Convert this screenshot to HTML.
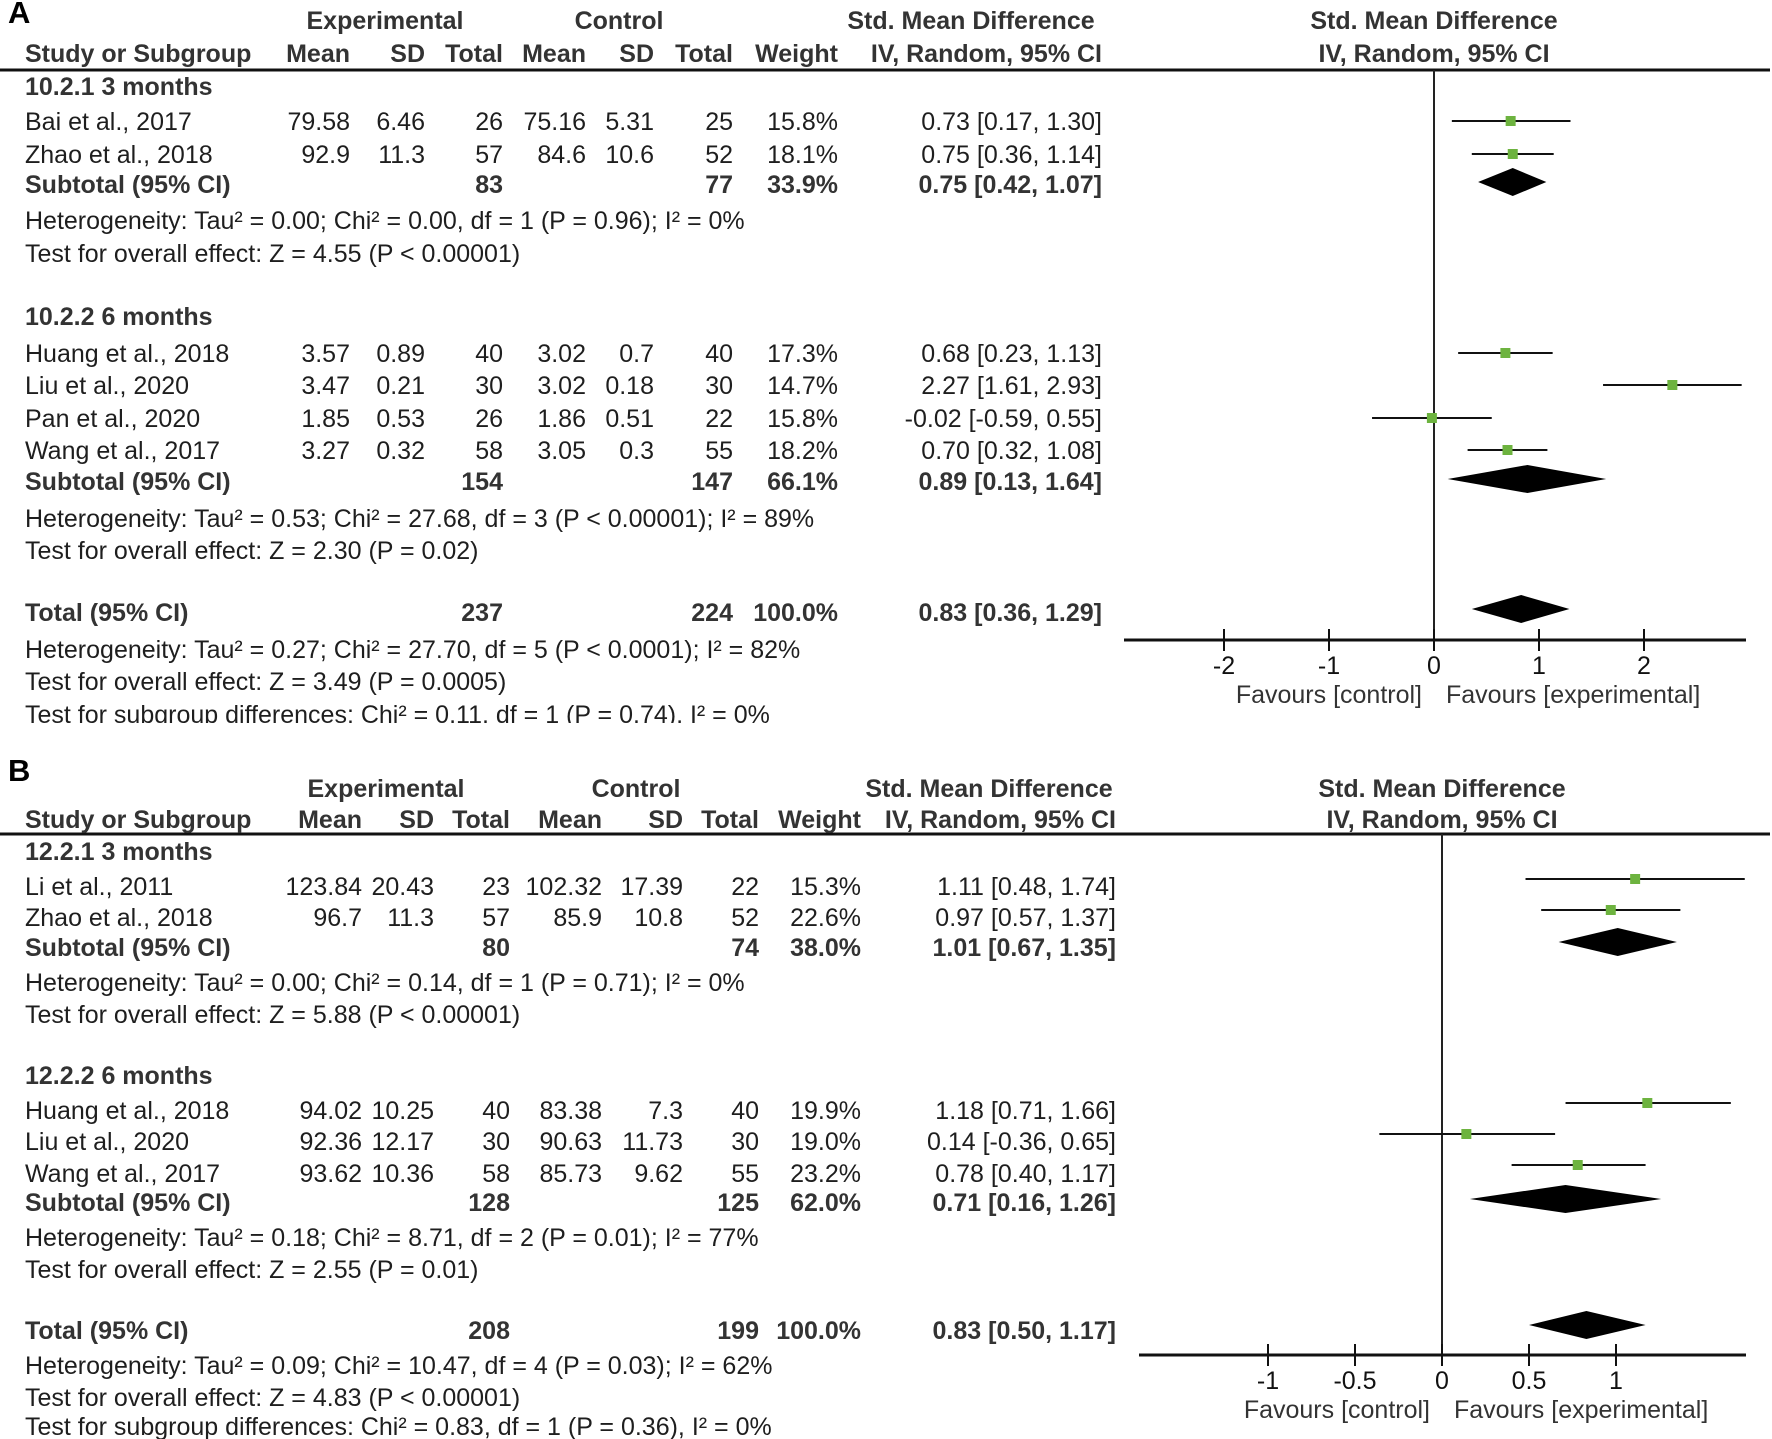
<!DOCTYPE html>
<html><head><meta charset="utf-8"><style>
html,body{margin:0;padding:0;background:#fff;}
svg{display:block;font-family:"Liberation Sans",Arial,sans-serif;}
</style></head><body>
<svg id="fig" width="1772" height="1439" viewBox="0 0 1772 1439"></svg>
<script>
// ===== Panel A data =====
const aStudies = ["Bai et al., 2017","Zhao et al., 2018","Huang et al., 2018","Liu et al., 2020","Pan et al., 2020","Wang et al., 2017"];
const aEst = [0.73,0.75,0.68,2.27,-0.02,0.70];
const aLo = [0.17,0.36,0.23,1.61,-0.59,0.32];
const aHi = [1.30,1.14,1.13,2.93,0.55,1.08];
const aDiaEst = [0.75,0.89,0.83];
const aDiaLo = [0.42,0.13,0.36];
const aDiaHi = [1.07,1.64,1.29];
const aTicks = [-2,-1,0,1,2];
// ===== Panel B data =====
const bStudies = ["Li et al., 2011","Zhao et al., 2018","Huang et al., 2018","Liu et al., 2020","Wang et al., 2017"];
const bEst = [1.11,0.97,1.18,0.14,0.78];
const bLo = [0.48,0.57,0.71,-0.36,0.40];
const bHi = [1.74,1.37,1.66,0.65,1.17];
const bDiaEst = [1.01,0.71,0.83];
const bDiaLo = [0.67,0.16,0.50];
const bDiaHi = [1.35,1.26,1.17];
const bTicks = [-1,-0.5,0,0.5,1];

const NS="http://www.w3.org/2000/svg";
const svg=document.getElementById('fig');
function el(tag,attrs,parent){const e=document.createElementNS(NS,tag);for(const k in attrs)e.setAttribute(k,attrs[k]);(parent||svg).appendChild(e);return e;}
function txt(x,y,s,opt,name){opt=opt||{};
  const t=el('text',{x:x,y:y+9,'font-size':opt.size||25,fill:opt.fill||'#1e1e1e','text-anchor':opt.anchor||'start','font-weight':opt.bold?'bold':'normal'});
  t.textContent=s;
  
  
  return t;}

function panel(P){
  const g=el('g',{});
  
  
  const sx=v=>P.zeroX+v*P.ppu;
  const hb={bold:true,fill:'#333'};
  txt(P.h1[0],P.h1Y,'Experimental',Object.assign({anchor:'middle'},hb),'experimental-header');
  txt(P.h1[1],P.h1Y,'Control',Object.assign({anchor:'middle'},hb),'control-header');
  txt(P.h1[2],P.h1Y,'Std. Mean Difference',Object.assign({anchor:'middle'},hb),'smd-header');
  txt(P.zeroX,P.h1Y,'Std. Mean Difference',Object.assign({anchor:'middle'},hb),'plot-header');
  txt(25,P.h2Y,'Study or Subgroup',hb,'study-column-header');
  const hn=['Mean','SD','Total','Mean','SD','Total','Weight','IV, Random, 95% CI'];
  hn.forEach((h,i)=>txt(P.cols[i],P.h2Y,h,Object.assign({anchor:'end'},hb),'column-header'));
  txt(P.zeroX,P.h2Y,'IV, Random, 95% CI',Object.assign({anchor:'middle'},hb),'plot-subheader');
  const r=el('line',{x1:0,x2:1770,y1:P.ruleY,y2:P.ruleY,stroke:'#111','stroke-width':3},g);
  
  
  P.rows.forEach(row=>{
    const bold=row.t!=='s'&&row.t!=='n';
    const o={bold:bold,fill:bold?'#333':'#1e1e1e'};
    txt(25,row.y,row.label,o,row.t==='s'?'study-label':'row-label');
    if(row.c) row.c.forEach((v,i)=>{ if(v!=='') txt(P.cols[i],row.y,v,Object.assign({anchor:'end'},o),'cell-value');});
  });
  const z=el('line',{x1:P.zeroX,x2:P.zeroX,y1:P.ruleY,y2:P.axisY,stroke:'#222','stroke-width':2},g);
  
  
  P.est.forEach((e,i)=>{
    const y=P.studyY[i];
    const l=el('line',{x1:sx(P.lo[i]),x2:sx(P.hi[i]),y1:y,y2:y,stroke:'#111','stroke-width':2},g);
    
    
    const m=el('rect',{x:sx(e)-5,y:y-5,width:10,height:10,fill:'#6db33f'},g);
    
    
  });
  P.dEst.forEach((e,i)=>{
    const y=P.diaY[i],h=14;
    const d=el('polygon',{points:`${sx(P.dLo[i])},${y} ${sx(e)},${y-h} ${sx(P.dHi[i])},${y} ${sx(e)},${y+h}`,fill:'#000'},g);
    
    
  });
  const ax=el('line',{x1:P.axX[0],x2:P.axX[1],y1:P.axisY,y2:P.axisY,stroke:'#111','stroke-width':3},g);
  
  
  P.ticks.forEach(t=>{
    const tk=el('line',{x1:sx(t),x2:sx(t),y1:P.axisY-11,y2:P.axisY+11,stroke:'#111','stroke-width':2},g);
    
    
    txt(sx(t),P.axisY+25,String(t),{anchor:'middle',fill:'#111'},'x-tick-label');
  });
  txt(P.zeroX-12,P.axisY+54,'Favours [control]',{anchor:'end',fill:'#333'},'favours-control');
  txt(P.zeroX+12,P.axisY+54,'Favours [experimental]',{anchor:'start',fill:'#333'},'favours-experimental');
}

panel({name:'panel-a',h1Y:20,h2Y:53,ruleY:70,h1:[385,619,971],
  cols:[350,425,503,586,654,733,838,1102],zeroX:1434,ppu:105,axisY:640,axX:[1124,1746],
  est:aEst,lo:aLo,hi:aHi,studyY:[121,154,353,385,418,450],
  dEst:aDiaEst,dLo:aDiaLo,dHi:aDiaHi,diaY:[182,479,609],ticks:aTicks,
  rows:[
   {t:'g',y:86,label:'10.2.1 3 months'},
   {t:'s',y:121,label:aStudies[0],c:['79.58','6.46','26','75.16','5.31','25','15.8%','0.73 [0.17, 1.30]']},
   {t:'s',y:154,label:aStudies[1],c:['92.9','11.3','57','84.6','10.6','52','18.1%','0.75 [0.36, 1.14]']},
   {t:'b',y:184,label:'Subtotal (95% CI)',c:['','','83','','','77','33.9%','0.75 [0.42, 1.07]']},
   {t:'n',y:220,label:'Heterogeneity: Tau² = 0.00; Chi² = 0.00, df = 1 (P = 0.96); I² = 0%'},
   {t:'n',y:253,label:'Test for overall effect: Z = 4.55 (P < 0.00001)'},
   {t:'g',y:316,label:'10.2.2 6 months'},
   {t:'s',y:353,label:aStudies[2],c:['3.57','0.89','40','3.02','0.7','40','17.3%','0.68 [0.23, 1.13]']},
   {t:'s',y:385,label:aStudies[3],c:['3.47','0.21','30','3.02','0.18','30','14.7%','2.27 [1.61, 2.93]']},
   {t:'s',y:418,label:aStudies[4],c:['1.85','0.53','26','1.86','0.51','22','15.8%','-0.02 [-0.59, 0.55]']},
   {t:'s',y:450,label:aStudies[5],c:['3.27','0.32','58','3.05','0.3','55','18.2%','0.70 [0.32, 1.08]']},
   {t:'b',y:481,label:'Subtotal (95% CI)',c:['','','154','','','147','66.1%','0.89 [0.13, 1.64]']},
   {t:'n',y:518,label:'Heterogeneity: Tau² = 0.53; Chi² = 27.68, df = 3 (P < 0.00001); I² = 89%'},
   {t:'n',y:550,label:'Test for overall effect: Z = 2.30 (P = 0.02)'},
   {t:'b',y:612,label:'Total (95% CI)',c:['','','237','','','224','100.0%','0.83 [0.36, 1.29]']},
   {t:'n',y:649,label:'Heterogeneity: Tau² = 0.27; Chi² = 27.70, df = 5 (P < 0.0001); I² = 82%'},
   {t:'n',y:681,label:'Test for overall effect: Z = 3.49 (P = 0.0005)'},
   {t:'n',y:714,label:'Test for subgroup differences: Chi² = 0.11, df = 1 (P = 0.74), I² = 0%'}
  ]});

// white band clipping the bottom of panel A (as in the source image)
const band=el('rect',{x:0,y:723,width:1772,height:28,fill:'#fff'});


txt(8,14,'A',{size:31,bold:true,fill:'#000'},'panel-letter-a');
txt(8,772,'B',{size:31,bold:true,fill:'#000'},'panel-letter-b');

panel({name:'panel-b',h1Y:788,h2Y:819,ruleY:834,h1:[386,636,989],
  cols:[362,434,510,602,683,759,861,1116],zeroX:1442,ppu:174,axisY:1355,axX:[1139,1746],
  est:bEst,lo:bLo,hi:bHi,studyY:[879,910,1103,1134,1165],
  dEst:bDiaEst,dLo:bDiaLo,dHi:bDiaHi,diaY:[942,1199,1325],ticks:bTicks,
  rows:[
   {t:'g',y:851,label:'12.2.1 3 months'},
   {t:'s',y:886,label:bStudies[0],c:['123.84','20.43','23','102.32','17.39','22','15.3%','1.11 [0.48, 1.74]']},
   {t:'s',y:917,label:bStudies[1],c:['96.7','11.3','57','85.9','10.8','52','22.6%','0.97 [0.57, 1.37]']},
   {t:'b',y:947,label:'Subtotal (95% CI)',c:['','','80','','','74','38.0%','1.01 [0.67, 1.35]']},
   {t:'n',y:982,label:'Heterogeneity: Tau² = 0.00; Chi² = 0.14, df = 1 (P = 0.71); I² = 0%'},
   {t:'n',y:1014,label:'Test for overall effect: Z = 5.88 (P < 0.00001)'},
   {t:'g',y:1075,label:'12.2.2 6 months'},
   {t:'s',y:1110,label:bStudies[2],c:['94.02','10.25','40','83.38','7.3','40','19.9%','1.18 [0.71, 1.66]']},
   {t:'s',y:1141,label:bStudies[3],c:['92.36','12.17','30','90.63','11.73','30','19.0%','0.14 [-0.36, 0.65]']},
   {t:'s',y:1173,label:bStudies[4],c:['93.62','10.36','58','85.73','9.62','55','23.2%','0.78 [0.40, 1.17]']},
   {t:'b',y:1202,label:'Subtotal (95% CI)',c:['','','128','','','125','62.0%','0.71 [0.16, 1.26]']},
   {t:'n',y:1237,label:'Heterogeneity: Tau² = 0.18; Chi² = 8.71, df = 2 (P = 0.01); I² = 77%'},
   {t:'n',y:1269,label:'Test for overall effect: Z = 2.55 (P = 0.01)'},
   {t:'b',y:1330,label:'Total (95% CI)',c:['','','208','','','199','100.0%','0.83 [0.50, 1.17]']},
   {t:'n',y:1365,label:'Heterogeneity: Tau² = 0.09; Chi² = 10.47, df = 4 (P = 0.03); I² = 62%'},
   {t:'n',y:1397,label:'Test for overall effect: Z = 4.83 (P < 0.00001)'},
   {t:'n',y:1426,label:'Test for subgroup differences: Chi² = 0.83, df = 1 (P = 0.36), I² = 0%'}
  ]});
</script>
</body></html>
